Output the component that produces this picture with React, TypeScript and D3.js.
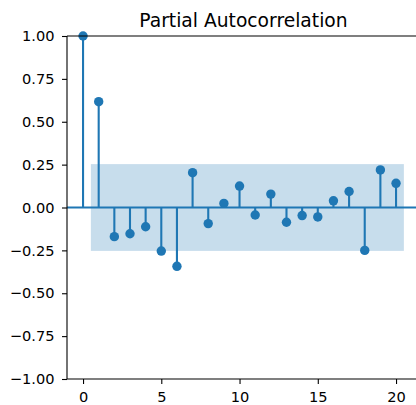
import React, { useEffect, useRef } from "react";
import * as d3 from "d3";

// partial autocorrelation per lag
const lags = [0, 1, 2, 3, 4, 5, 6, 7, 8, 9, 10, 11, 12, 13, 14, 15, 16, 17, 18, 19, 20];
const pacf = [
  1.0, 0.617, -0.17, -0.153, -0.112, -0.254, -0.343, 0.203, -0.094, 0.024, 0.125,
  -0.044, 0.078, -0.086, -0.047, -0.055, 0.039, 0.093, -0.25, 0.219, 0.141,
];
const confBand = 0.253;
const xTicks = [0, 5, 10, 15, 20];
const yTicks = [-1, -0.75, -0.5, -0.25, 0, 0.25, 0.5, 0.75, 1];

const width = 416;
const height = 405;
const margin = { top: 36, left: 67, bottom: 26 };
const blue = "#1f77b4";
const font = "DejaVu Sans, sans-serif";

const App = () => {
  const svgRef = useRef<SVGSVGElement>(null);

  useEffect(() => {
    const svg = d3.select(svgRef.current);
    svg.selectAll("*").remove();

    const x = d3.scaleLinear().domain([-1.025, 21.525]).range([margin.left, 419.9]);
    const y = d3.scaleLinear().domain([-1, 1]).range([height - margin.bottom, margin.top]);
    const x0 = x.range()[0];
    const x1 = x.range()[1];

    // confidence band (lags 1..20, edges pushed out half a lag)
    svg
      .append("rect")
      .attr("x", x(lags[1] - 0.5))
      .attr("y", y(confBand))
      .attr("width", x(lags[lags.length - 1] + 0.5) - x(lags[1] - 0.5))
      .attr("height", y(-confBand) - y(confBand))
      .attr("fill", blue)
      .attr("fill-opacity", 0.25);

    // zero line
    svg
      .append("line")
      .attr("x1", x0)
      .attr("x2", x1)
      .attr("y1", y(0))
      .attr("y2", y(0))
      .attr("stroke", blue)
      .attr("stroke-width", 2.1);

    // stems
    svg
      .append("g")
      .selectAll("line")
      .data(lags)
      .join("line")
      .attr("x1", (d) => x(d))
      .attr("x2", (d) => x(d))
      .attr("y1", y(0))
      .attr("y2", (d, i) => y(pacf[i]))
      .attr("stroke", blue)
      .attr("stroke-width", 2.1);

    // markers
    svg
      .append("g")
      .selectAll("circle")
      .data(lags)
      .join("circle")
      .attr("cx", (d) => x(d))
      .attr("cy", (d, i) => y(pacf[i]))
      .attr("r", 4.7)
      .attr("fill", blue);

    // axes
    const fmtY = (d: number) => d.toFixed(2).replace("-", "\u2212");
    const yAxis = svg
      .append("g")
      .attr("transform", `translate(${x0},0)`)
      .call(d3.axisLeft(y).tickValues(yTicks).tickFormat(fmtY as any).tickSizeOuter(0).tickSize(5).tickPadding(7.5));
    const xAxis = svg
      .append("g")
      .attr("transform", `translate(0,${y(-1)})`)
      .call(d3.axisBottom(x).tickValues(xTicks).tickFormat(d3.format("d") as any).tickSizeOuter(0).tickSize(5).tickPadding(8));

    [xAxis, yAxis].forEach((g) => {
      g.attr("font-family", font).attr("font-size", 14.6);
      g.selectAll("line").attr("stroke", "#000").attr("stroke-width", 1.1);
      g.selectAll("text").attr("fill", "#000");
      g.select(".domain").remove();
    });

    // spines (right one falls outside the figure)
    const spine = (a: number, b: number, c: number, e: number) =>
      svg
        .append("line")
        .attr("x1", a)
        .attr("y1", b)
        .attr("x2", c)
        .attr("y2", e)
        .attr("stroke", "#000")
        .attr("stroke-width", 1.1);
    spine(x0, y(1), x0, y(-1));
    spine(x0, y(-1), x1, y(-1));
    spine(x0, y(1), x1, y(1));

    svg
      .append("text")
      .attr("x", (x0 + x1) / 2)
      .attr("y", 27)
      .attr("text-anchor", "middle")
      .attr("font-family", font)
      .attr("font-size", 18.7)
      .attr("fill", "#000")
      .text("Partial Autocorrelation");
  }, []);

  return (
    <svg
      ref={svgRef}
      width={width}
      height={height}
      style={{ position: "absolute", left: 0, top: 0, background: "#fff" }}
    />
  );
};

export default App;
